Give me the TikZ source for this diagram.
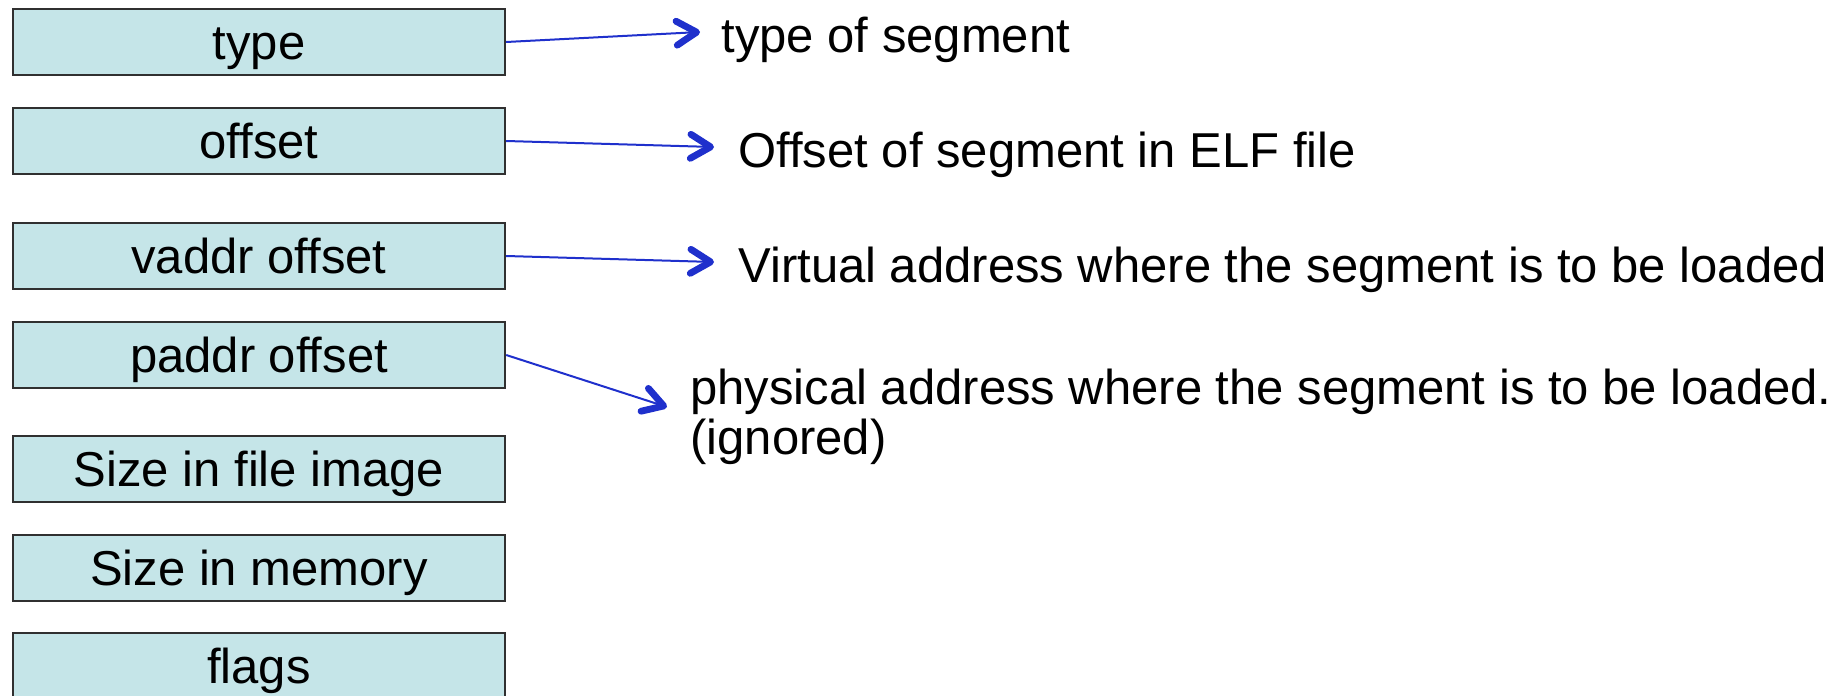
\documentclass[tikz,border=0pt]{standalone}
\usepackage{fontspec}
\setmainfont{Liberation Sans}
\usetikzlibrary{arrows.meta}
\definecolor{fieldfill}{HTML}{C5E5E8}
\definecolor{fieldline}{HTML}{303030}
\definecolor{pointer}{HTML}{1F30CC}
\begin{document}
\begin{tikzpicture}[x=0.5pt,y=-0.5pt,
  every node/.style={font=\fontsize{24.5}{25}\selectfont, inner sep=0pt},
  field/.style={draw=fieldline, line width=1.2pt, fill=fieldfill,
    minimum width=246pt, minimum height=33pt,
    text height=17.5pt, text depth=0pt, anchor=center},
  note/.style={anchor=base west, align=left},
  pointsto/.style={draw=pointer, line width=1pt,
    -{Straight Barb[length=10pt, width=12pt, line width=2.4pt 1, round]}}
]
\useasboundingbox (0,0) rectangle (1848,696);

% program header fields
\node[field] (type)  at (259,42)  {type};
\node[field] (off)   at (259,141) {offset};
\node[field] (vaddr) at (259,256) {vaddr offset};
\node[field] (paddr) at (259,355) {paddr offset};
\node[field] (fsize) at (259,469) {Size in file image};
\node[field] (msize) at (259,568) {Size in memory};
\node[field] (flags) at (259,666) {flags};

% descriptions
\node[note] (dtype)  at (721,52)  {type of segment};
\node[note] (doff)   at (738,167) {Offset of segment in ELF file};
\node[note] (dvaddr) at (738,282) {Virtual address where the segment is to be loaded};
\node[note] (dpaddr) at (690,454) {physical address where the segment is to be loaded.\\(ignored)};

% arrow tips
\coordinate (ttype)  at (700,32);
\coordinate (toff)   at (714,147);
\coordinate (tvaddr) at (714,262);
\coordinate (tpaddr) at (667,407);

\draw[pointsto] (type.east)  -- (ttype);
\draw[pointsto] (off.east)   -- (toff);
\draw[pointsto] (vaddr.east) -- (tvaddr);
\draw[pointsto] (paddr.east) -- (tpaddr);
\end{tikzpicture}
\end{document}
